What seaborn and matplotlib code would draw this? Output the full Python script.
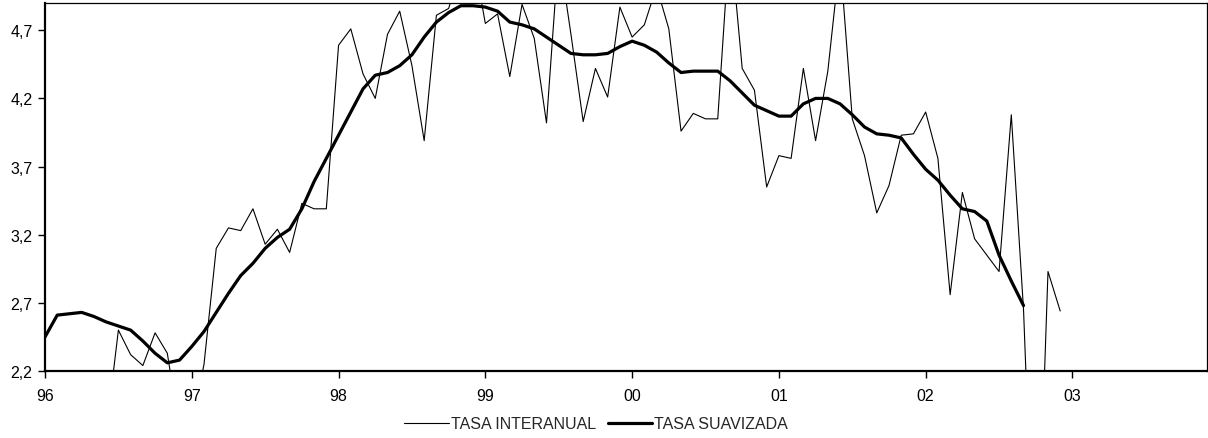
import matplotlib
matplotlib.use("Agg")
import matplotlib.pyplot as plt
import numpy as np
import pandas as pd
import seaborn as sns
from matplotlib.lines import Line2D
from matplotlib.ticker import FixedLocator, FuncFormatter

sns.set_style("white")
plt.rcParams["font.family"] = ["Liberation Sans", "DejaVu Sans"]

# monthly series, Jan 1996 onwards (month index 0 = Jan 96)
tasa_interanual = [
    np.nan, np.nan, np.nan, np.nan, np.nan, 1.75, 2.50, 2.32, 2.24, 2.48,
    2.33, 1.76, 1.80, 2.25, 3.10, 3.25, 3.23, 3.39, 3.13, 3.24,
    3.07, 3.43, 3.39, 3.39, 4.59, 4.71, 4.38, 4.20, 4.67, 4.84,
    4.44, 3.89, 4.81, 4.86, 5.15, 5.25, 4.75, 4.82, 4.36, 4.89,
    4.64, 4.02, 5.28, 4.67, 4.03, 4.42, 4.21, 4.87, 4.65, 4.74,
    5.02, 4.71, 3.96, 4.09, 4.05, 4.05, 5.40, 4.42, 4.26, 3.55,
    3.78, 3.76, 4.42, 3.89, 4.40, 5.23, 4.05, 3.78, 3.36, 3.56,
    3.93, 3.94, 4.10, 3.76, 2.76, 3.51, 3.17, 3.05, 2.93, 4.08,
    2.65, 0.30, 2.93, 2.64,
]
tasa_suavizada = [
    2.45, 2.61, 2.62, 2.63, 2.60, 2.56, 2.53, 2.50, 2.42, 2.33,
    2.26, 2.28, 2.38, 2.49, 2.63, 2.77, 2.90, 2.99, 3.10, 3.18,
    3.24, 3.39, 3.59, 3.76, 3.93, 4.10, 4.27, 4.37, 4.39, 4.44,
    4.52, 4.65, 4.76, 4.83, 4.88, 4.88, 4.87, 4.84, 4.76, 4.74,
    4.71, 4.65, 4.59, 4.53, 4.52, 4.52, 4.53, 4.58, 4.62, 4.59,
    4.54, 4.46, 4.39, 4.40, 4.40, 4.40, 4.33, 4.24, 4.15, 4.11,
    4.07, 4.07, 4.16, 4.20, 4.20, 4.16, 4.08, 3.99, 3.94, 3.93,
    3.91, 3.79, 3.68, 3.60, 3.49, 3.39, 3.37, 3.30, 3.05, 2.86,
    2.68,
]
year_labels = ["96", "97", "98", "99", "00", "01", "02", "03"]
y_ticks = [2.2, 2.7, 3.2, 3.7, 4.2, 4.7]

df_int = pd.DataFrame({"mes": np.arange(len(tasa_interanual)), "valor": tasa_interanual})
df_sua = pd.DataFrame({"mes": np.arange(len(tasa_suavizada)), "valor": tasa_suavizada})

fig = plt.figure(figsize=(12.08, 4.39), dpi=100)
ax = fig.add_axes([45 / 1208, 1 - 372 / 439, 1162 / 1208, 368 / 439])

sns.lineplot(x="mes", y="valor", data=df_int, color="black", linewidth=0.8, ax=ax)
sns.lineplot(x="mes", y="valor", data=df_sua, color="black", linewidth=2.3, ax=ax)

ax.set_xlim(0, 95)
ax.set_ylim(2.2, 4.9)
ax.xaxis.set_major_locator(FixedLocator([12 * i for i in range(len(year_labels))]))
ax.set_xticklabels(year_labels)
ax.yaxis.set_major_locator(FixedLocator(y_ticks))
ax.yaxis.set_major_formatter(FuncFormatter(lambda v, p: f"{v:.1f}".replace(".", ",")))
ax.tick_params(axis="both", which="major", direction="out", length=5, width=1,
               color="black", labelsize=11.5, labelcolor="black", pad=4,
               bottom=True, left=True)
ax.tick_params(axis="x", pad=7)
ax.set_xlabel("")
ax.set_ylabel("")

for side in ["bottom", "left"]:
    ax.spines[side].set_color("black")
    ax.spines[side].set_linewidth(1.6)
for side in ["top", "right"]:
    ax.spines[side].set_color("black")
    ax.spines[side].set_linewidth(0.9)

handles = [Line2D([], [], color="black", linewidth=0.8),
           Line2D([], [], color="black", linewidth=2.3)]
fig.legend(handles, ["TASA INTERANUAL", "TASA SUAVIZADA"], loc="center",
           bbox_to_anchor=(596 / 1208, 1 - 425 / 439), ncol=2, frameon=False,
           fontsize=11.5, handlelength=2.8, handletextpad=0.1, columnspacing=0.75)

fig.savefig("out.png", dpi=100)
